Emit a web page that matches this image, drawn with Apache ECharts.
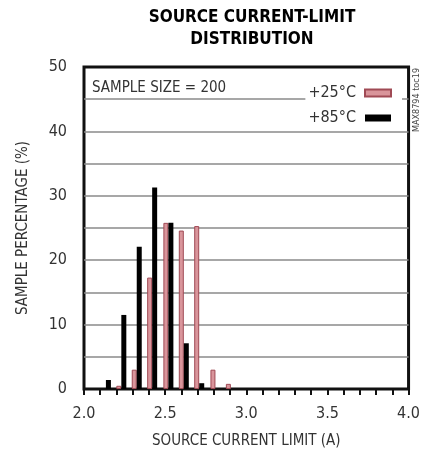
<!DOCTYPE html>
<html>
<head>
<meta charset="utf-8">
<script src="https://cdn.jsdelivr.net/npm/echarts@6/dist/echarts.min.js"></script>
<style>
  html, body { margin: 0; padding: 0; background: #fff; }
  #chart { width: 423px; height: 454px; }
</style>
</head>
<body>
<div id="chart"></div>
<script>
  // bin positions (A) as drawn, pink bar left of the boundary, black right of it
  const bins = [2.135, 2.23, 2.325, 2.42, 2.52, 2.615, 2.71, 2.81, 2.905];
  const pct25 = [null, 0.5, 3, 17.3, 25.8, 24.6, 25.3, 3, 0.8]; // +25°C
  const pct85 = [1.4, 11.5, 22.1, 31.3, 25.8, 7.1, 0.9, null, null]; // +85°C
  const xLabels = [2.0, 2.5, 3.0, 3.5, 4.0];
  const yLabels = [0, 10, 20, 30, 40, 50];

  const FONT = "'Liberation Sans Narrow', 'DejaVu Sans Condensed', sans-serif";
  const toPairs = arr => bins.map((x, i) => [x, arr[i]]).filter(p => p[1] != null);

  let myChart = echarts.init(document.getElementById('chart'));
  myChart.setOption({
    animation: false,
    title: {
      text: 'SOURCE CURRENT-LIMIT\nDISTRIBUTION',
      left: 247,
      top: 2,
      textAlign: 'center',
      textStyle: { fontFamily: FONT, fontWeight: 'bold', fontSize: 17, lineHeight: 22, color: '#000' }
    },
    legend: {
      data: ['+25°C', '+85°C'],
      orient: 'vertical',
      align: 'right',
      right: 21,
      top: 79,
      padding: [6, 10, 4, 3],
      itemGap: 9,
      itemWidth: 26,
      itemHeight: 7,
      icon: 'rect',
      backgroundColor: '#fff',
      textStyle: { fontFamily: FONT, fontSize: 16, lineHeight: 16, color: '#333', padding: [0, 4, 0, 0] }
    },
    grid: {
      left: 84, right: 12, top: 67, bottom: 62,
      show: true, borderColor: '#111', borderWidth: 3
    },
    xAxis: {
      type: 'value',
      min: 2, max: 4, interval: 0.5,
      name: 'SOURCE CURRENT LIMIT (A)',
      nameLocation: 'middle',
      nameGap: 45,
      nameTextStyle: { fontFamily: FONT, fontSize: 15, color: '#333' },
      axisLine: { show: false },
      axisTick: { show: true, length: 6, lineStyle: { color: '#111', width: 2 } },
      minorTick: { show: true, splitNumber: 5, length: 6, lineStyle: { color: '#111', width: 2 } },
      splitLine: { show: false },
      axisLabel: {
        margin: 17,
        fontFamily: FONT, fontSize: 16, color: '#333',
        formatter: v => xLabels.some(l => Math.abs(l - v) < 1e-6) ? v.toFixed(1) : ''
      }
    },
    yAxis: {
      type: 'value',
      min: 0, max: 50, interval: 5,
      name: 'SAMPLE PERCENTAGE (%)',
      nameLocation: 'middle',
      nameGap: 53,
      nameTextStyle: { fontFamily: FONT, fontSize: 15, color: '#333' },
      axisLine: { show: false },
      axisTick: { show: false },
      splitLine: { show: true, showMinLine: false, showMaxLine: false, lineStyle: { color: '#8a8a8a', width: 1.5 } },
      axisLabel: {
        margin: 17,
        fontFamily: FONT, fontSize: 16, color: '#333',
        formatter: v => yLabels.indexOf(v) >= 0 ? String(v) : ''
      }
    },
    series: [
      {
        name: '+25°C',
        type: 'bar',
        barWidth: 5,
        barGap: '0%',
        data: toPairs(pct25),
        itemStyle: { color: '#d9959b', borderColor: '#a04a55', borderWidth: 1 }
      },
      {
        name: '+85°C',
        type: 'bar',
        barWidth: 5,
        barGap: '0%',
        data: toPairs(pct85),
        itemStyle: { color: '#000' }
      }
    ],
    graphic: [
      {
        type: 'text', x: 92, y: 88,
        style: { text: 'SAMPLE SIZE = 200', font: '15px ' + FONT, fill: '#333', verticalAlign: 'middle' }
      },
      {
        type: 'text', x: 417, y: 100, rotation: Math.PI / 2,
        style: { text: 'MAX8794 toc19', font: '9px ' + FONT, fill: '#444', align: 'center', verticalAlign: 'middle' }
      }
    ]
  });
</script>
</body>
</html>
